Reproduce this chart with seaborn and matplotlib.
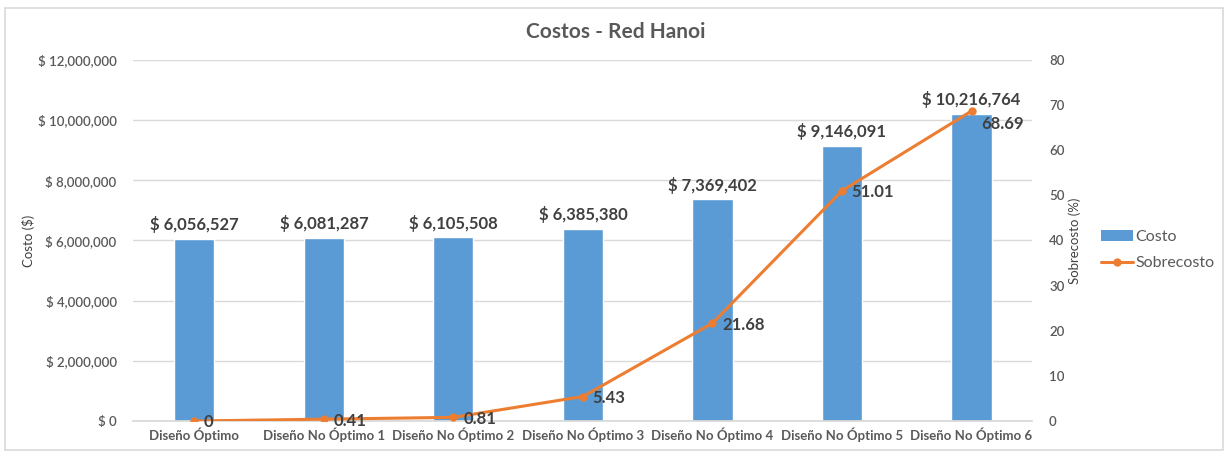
import numpy as np
import pandas as pd
import matplotlib
matplotlib.use("Agg")
import matplotlib.pyplot as plt
from matplotlib.patches import Patch, Rectangle
from matplotlib.lines import Line2D
from matplotlib.ticker import FuncFormatter, MultipleLocator
import seaborn as sns

# Chart data
disenos = ["Diseño Óptimo", "Diseño No Óptimo 1", "Diseño No Óptimo 2",
           "Diseño No Óptimo 3", "Diseño No Óptimo 4", "Diseño No Óptimo 5",
           "Diseño No Óptimo 6"]
costo = [6056527, 6081287, 6105508, 6385380, 7369402, 9146091, 10216764]
sobrecosto = [0, 0.41, 0.81, 5.43, 21.68, 51.01, 68.69]

sns.set_theme(style="white")
plt.rcParams["font.family"] = ["Lato", "DejaVu Sans"]

GRAY = "#595959"
BLUE = "#5B9BD5"
ORANGE = "#ED7D31"

df = pd.DataFrame({"Diseño": disenos, "Costo": costo, "Sobrecosto": sobrecosto})

fig = plt.figure(figsize=(12.24, 4.51), dpi=100)
ax = fig.add_axes([0.109, 0.0665, 0.7345, 0.8005])

sns.barplot(data=df, x="Diseño", y="Costo", color=BLUE, width=0.31,
            saturation=1, ax=ax, zorder=2)

ax.set_ylim(0, 12_000_000)
ax.yaxis.set_major_locator(MultipleLocator(2_000_000))
ax.yaxis.set_major_formatter(FuncFormatter(lambda v, _: f"$ {v:,.0f}"))
ax.grid(axis="y", color="#D9D9D9", linewidth=1, zorder=0)
ax.set_axisbelow(True)
for s in ["top", "right", "left"]:
    ax.spines[s].set_visible(False)
ax.spines["bottom"].set_color("#D9D9D9")
ax.tick_params(axis="y", labelsize=9.5, labelcolor=GRAY, length=0, pad=12)
ax.tick_params(axis="x", labelsize=9.5, labelcolor=GRAY, length=0, pad=5)
for lbl in ax.get_yticklabels():
    lbl.set_fontweight("semibold")
for lbl in ax.get_xticklabels():
    lbl.set_fontweight("bold")
ax.set_xlabel("")
ax.set_ylabel("Costo ($)", fontsize=9.5, color="#404040", labelpad=2)

# Cost labels above each bar
for i, v in enumerate(costo):
    ax.annotate(f"$ {v:,.0f}", (i, v), xytext=(0, 4), textcoords="offset points",
                ha="center", va="bottom", fontsize=12, fontweight="bold",
                color="#404040")

# Overrun line on the secondary axis
ax2 = ax.twinx()
sns.lineplot(x=np.arange(len(disenos)), y=sobrecosto, ax=ax2, color=ORANGE,
             linewidth=2.2, marker="o", markersize=6, markeredgewidth=0,
             zorder=3)
ax2.set_ylim(0, 80)
ax2.yaxis.set_major_locator(MultipleLocator(10))
for s in ["top", "right", "left", "bottom"]:
    ax2.spines[s].set_visible(False)
ax2.tick_params(axis="y", labelsize=9.5, labelcolor=GRAY, length=0, pad=12)
for lbl in ax2.get_yticklabels():
    lbl.set_fontweight("semibold")
ax2.set_ylabel("Sobrecosto (%)", fontsize=9.5, color="#404040", labelpad=3)
ax2.grid(False)

for i, v in enumerate(sobrecosto):
    dy = -9 if i == len(sobrecosto) - 1 else -1
    ax2.annotate(f"{v:g}", (i, v), xytext=(7, dy), textcoords="offset points",
                 ha="left", va="center", fontsize=12, fontweight="bold",
                 color="#404040")

fig.text(0.503, 0.928, "Costos - Red Hanoi", ha="center", va="center",
         fontsize=15, fontweight="bold", color=GRAY)

handles = [Patch(facecolor=BLUE, edgecolor="none"),
           Line2D([0], [0], color=ORANGE, linewidth=2.2, marker="o",
                  markersize=6, markeredgewidth=0)]
leg = fig.legend(handles, ["Costo", "Sobrecosto"], loc="center left",
                 bbox_to_anchor=(0.888, 0.445), frameon=False, fontsize=11.5,
                 handlelength=2.0, handletextpad=0.15, labelspacing=0.75)
for t in leg.get_texts():
    t.set_color(GRAY)

# Chart frame
fig.patches.append(Rectangle((5 / 1224, 0.002), 1218 / 1224, 1 - 8 / 451 - 0.002,
                             transform=fig.transFigure, fill=False,
                             edgecolor="#D9D9D9", linewidth=1.2))

fig.savefig("out.png", dpi=100)
